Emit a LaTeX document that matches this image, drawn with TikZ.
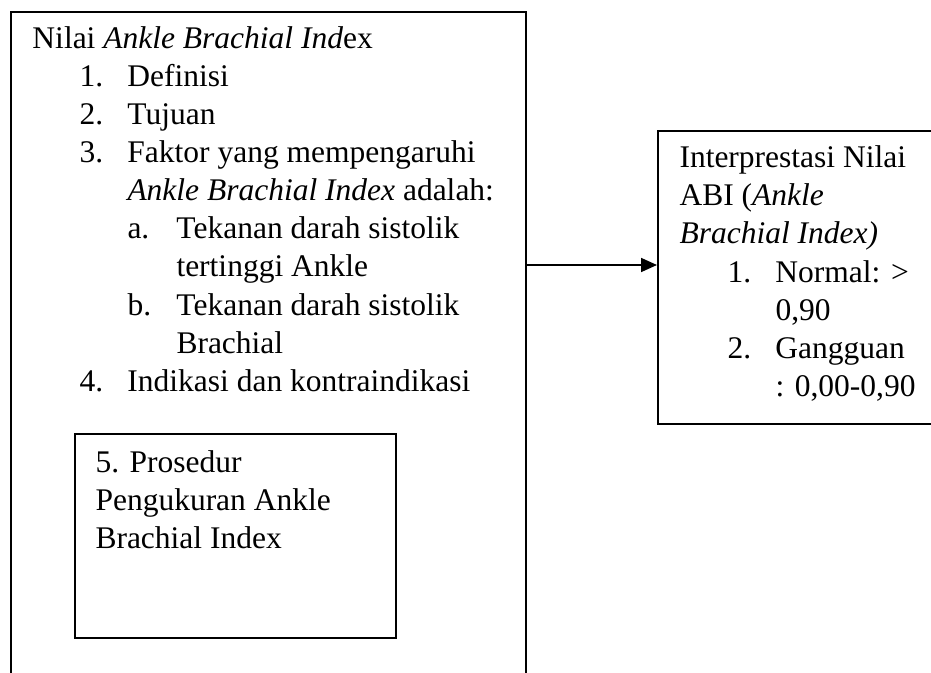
\documentclass[tikz,border=0pt]{standalone}
\usepackage{fontspec}
\setmainfont{Liberation Serif}
\usetikzlibrary{arrows.meta}

\tikzset{
  box/.style={draw, line width=0.7pt, inner sep=0pt, anchor=north west},
  txt/.style={inner sep=0pt, anchor=base west, align=left,
    font=\fontsize{12.6}{15.2}\selectfont},
}
\newcommand{\lvlone}[2]{\hspace*{18.8pt}\makebox[19.2pt][l]{#1}#2}
\newcommand{\lvltwo}[2]{\hspace*{38pt}\makebox[19.6pt][l]{#1}#2}
\newcommand{\abinum}[2]{\hspace*{19.2pt}\makebox[19.2pt][l]{#1}#2}

\begin{document}
\begin{tikzpicture}[x=0.4pt, y=-0.4pt]
  \useasboundingbox (0,0) rectangle (931,672);
  \clip (0,0) rectangle (931,672);
  \node[box, minimum width=206pt, minimum height=275.6pt] (leftbox) at (10,11) {};
  \node[box, minimum width=128.4pt, minimum height=81.6pt] (innerbox) at (74,433) {};
  \node[box, minimum width=117.2pt, minimum height=117.2pt] (abibox) at (657,130) {};
  \node[txt] (abiteks) at (32,391) {Nilai \textit{Ankle Brachial Ind}ex\\
    \lvlone{1.}{Definisi}\\
    \lvlone{2.}{Tujuan}\\
    \lvlone{3.}{Faktor yang mempengaruhi}\\
    \hspace*{38pt}\textit{Ankle Brachial Index} adalah:\\
    \lvltwo{a.}{Tekanan darah sistolik}\\
    \hspace*{57.6pt}tertinggi Ankle\\
    \lvltwo{b.}{Tekanan darah sistolik}\\
    \hspace*{57.6pt}Brachial\\
    \lvlone{4.}{Indikasi dan kontraindikasi}};
  \node[txt] (prosedur) at (95,548) {5. Prosedur\\
    Pengukuran Ankle\\
    Brachial Index};
  \node[txt] (interpretasi) at (679,396) {Interprestasi Nilai\\
    ABI (\textit{Ankle}\\
    \textit{Brachial Index)}\\
    \abinum{1.}{Normal: >}\\
    \hspace*{38.4pt}0,90\\
    \abinum{2.}{Gangguan}\\
    \hspace*{38.4pt}: 0,00-0,90};
  \coordinate (tail) at (leftbox.east |- 0,265);
  \draw[line width=0.7pt, -{Triangle[length=6.4pt, width=5.6pt]}] (tail) -- (abibox.west |- tail);
\end{tikzpicture}
\end{document}
